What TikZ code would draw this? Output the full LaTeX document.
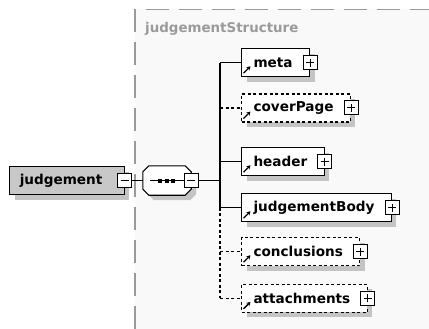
\documentclass[tikz,border=0pt]{standalone}
\usepackage{fontspec}
\newfontfamily\diagfont{DejaVu Sans}
\usetikzlibrary{arrows.meta,shadows}
\definecolor{groupbg}{HTML}{F9F9F9}
\definecolor{groupline}{HTML}{9A9A9A}
\definecolor{shadowgray}{HTML}{C4C4C4}
\definecolor{topgray}{HTML}{C8C8C8}
\tikzset{
  elbox/.style={draw, fill=white, line width=1.1pt, minimum height=28pt, inner xsep=14.5pt, inner ysep=0pt,
    font=\diagfont\bfseries\fontsize{13.6}{16}\selectfont, anchor=west,
    drop shadow={shadow xshift=5pt, shadow yshift=-5pt, fill=shadowgray, opacity=1},
    execute at begin node={\hskip-2.5pt}, execute at end node={\hskip2.5pt}},
  required/.style={},
  optional/.style={dash pattern=on 3pt off 2.5pt},
  togglebox/.style={draw, fill=white, line width=1pt, minimum width=14pt, minimum height=14pt, inner sep=0pt},
  plusbox/.style={togglebox, path picture={
    \draw[line width=1pt] ([xshift=3pt]path picture bounding box.west) -- ([xshift=-3pt]path picture bounding box.east);
    \draw[line width=1pt] ([yshift=3pt]path picture bounding box.south) -- ([yshift=-3pt]path picture bounding box.north);}},
  minusbox/.style={togglebox, path picture={
    \draw[line width=1pt] ([xshift=3pt]path picture bounding box.west) -- ([xshift=-3pt]path picture bounding box.east);}},
  refarrow/.style={-{Stealth[length=4pt,width=4.5pt]}, line width=1.3pt},
  link/.style={line width=1.1pt}
}
\begin{document}
\begin{tikzpicture}[x=1pt, y=-1pt]
\useasboundingbox (0,0) rectangle (429,329);
% group frame
\fill[groupbg] (135,9.5) rectangle (429,329);
\draw[groupline, line width=1.3pt, dash pattern=on 23pt off 10pt] (135,329) -- (135,9.5) -- (429,9.5);
\node[anchor=base west, text=groupline, font=\diagfont\bfseries\fontsize{13.4}{16}\selectfont, inner sep=0pt] (grouptitle) at (145,32.7) {judgementStructure};
% root element
\node[elbox, fill=topgray, inner xsep=16pt, execute at begin node={\hskip-3.3pt}, execute at end node={\hskip3.3pt}] (judgement) at (9,180.5) {judgement};
\node[minusbox] (judgement-toggle) at (judgement.east) {};
% sequence
\node[minimum width=48pt, minimum height=29pt, inner sep=0pt] (seq) at (167,180.5) {};
\draw[line width=1.1pt, fill=white, drop shadow={shadow xshift=5pt, shadow yshift=-5pt, fill=shadowgray, opacity=1}]
  ([xshift=6pt]seq.north west) -- ([xshift=-6pt]seq.north east) -- ([yshift=-6pt]seq.north east)
  -- ([yshift=6pt]seq.south east) -- ([xshift=-6pt]seq.south east) -- ([xshift=6pt]seq.south west)
  -- ([yshift=6pt]seq.south west) -- ([yshift=-6pt]seq.north west) -- cycle;
\draw[line width=1pt] (150,180.5) -- (185,180.5);
\foreach \dx in {160,166.5,173} \fill (\dx-2,178.5) rectangle (\dx+2,182.5);
\node[minusbox] (seq-toggle) at (seq.east) {};
\draw[link] (judgement-toggle.east) -- (seq.west);
\coordinate (trunk) at (220,180.5);
\draw[link] (seq-toggle.east) -- (trunk);
% children
\foreach \name/\ypos/\kind in {meta/62.7/required, coverPage/108/optional, header/161.7/required,
    judgementBody/207.7/required, conclusions/251.7/optional, attachments/298.3/optional} {
  \node[elbox, \kind] (\name) at (241,\ypos) {\name};
  \node[plusbox] (\name-toggle) at (\name.east) {};
  \draw[refarrow] ([shift={(2.5,-4)}]\name.south west) -- ++(7,-7);
  \draw[link, \kind] (trunk |- \name.west) -- (\name.west);
}
\draw[link] (trunk |- meta.west) -- (trunk |- judgementBody.west);
\draw[link, optional] (trunk |- judgementBody.west) -- (trunk |- attachments.west);
\end{tikzpicture}
\end{document}
